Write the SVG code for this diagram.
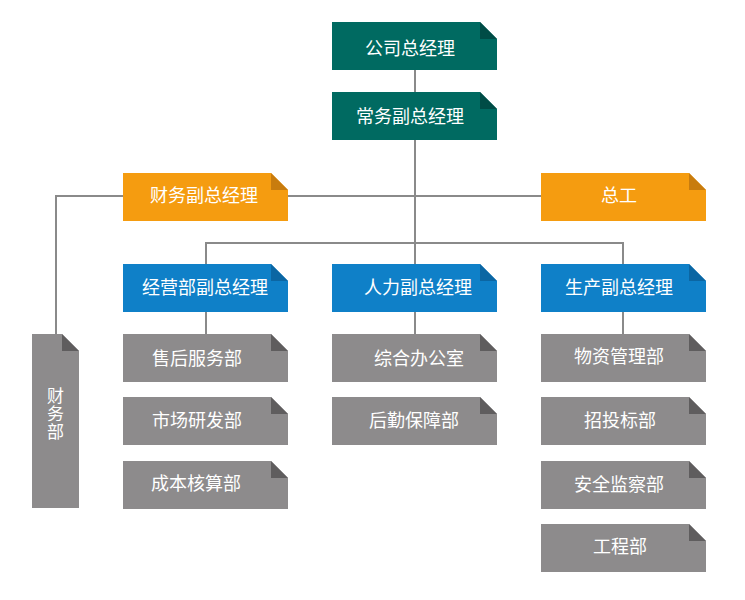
<svg xmlns="http://www.w3.org/2000/svg" xmlns:xlink="http://www.w3.org/1999/xlink" width="745" height="600" viewBox="0 0 745 600">
<defs>
<path id="box" d="M0 0H148L165 17V48H0Z"/>
<path id="fold" d="M148 0V17H165Z"/>
<style>
.teal{fill:#006a61}.teal-d{fill:#004c46}
.orange{fill:#f59c10}.orange-d{fill:#c87c0e}
.blue{fill:#0f80c8}.blue-d{fill:#0b66a3}
.gray{fill:#8d8b8c}.gray-d{fill:#5f5d5e}
text{font-family:"Noto Sans CJK SC","Noto Sans",sans-serif;font-size:18px;fill:#fff;text-anchor:middle}
.conn{fill:none;stroke:#8a8a8a;stroke-width:2}
</style>
</defs>
<rect width="745" height="600" fill="#fff"/>
<g id="connectors" class="conn">
<path d="M415 70V264"/>
<path d="M56 335V196H541"/>
<path d="M206 264V243H623V264"/>
<path d="M206 312V334M415 312V334M623 312V334"/>
</g>
<g id="n-gm" transform="translate(332,22)"><use href="#box" class="teal"/><use href="#fold" class="teal-d"/><text x="78" y="33">公司总经理</text></g>
<g id="n-evp" transform="translate(332,92)"><use href="#box" class="teal"/><use href="#fold" class="teal-d"/><text x="78" y="31">常务副总经理</text></g>
<g id="n-cfo" transform="translate(123,173)"><use href="#box" class="orange"/><use href="#fold" class="orange-d"/><text x="81" y="29">财务副总经理</text></g>
<g id="n-chief" transform="translate(541,173)"><use href="#box" class="orange"/><use href="#fold" class="orange-d"/><text x="78" y="29">总工</text></g>
<g id="n-ops" transform="translate(123,264)"><use href="#box" class="blue"/><use href="#fold" class="blue-d"/><text x="82" y="30">经营部副总经理</text></g>
<g id="n-hr" transform="translate(332,264)"><use href="#box" class="blue"/><use href="#fold" class="blue-d"/><text x="86" y="30">人力副总经理</text></g>
<g id="n-prod" transform="translate(541,264)"><use href="#box" class="blue"/><use href="#fold" class="blue-d"/><text x="78" y="30">生产副总经理</text></g>
<g id="n-fin">
<path d="M32 334H62L79 351V508H32Z" class="gray"/><path d="M62 334V351H79Z" class="gray-d"/>
<text x="55.5" y="414.5" writing-mode="vertical-rl" style="font-size:17px;letter-spacing:1px">财务部</text>
</g>
<g id="n-after" transform="translate(123,334)"><use href="#box" class="gray"/><use href="#fold" class="gray-d"/><text x="74" y="31">售后服务部</text></g>
<g id="n-rd" transform="translate(123,397)"><use href="#box" class="gray"/><use href="#fold" class="gray-d"/><text x="74" y="30">市场研发部</text></g>
<g id="n-cost" transform="translate(123,461)"><use href="#box" class="gray"/><use href="#fold" class="gray-d"/><text x="73" y="29">成本核算部</text></g>
<g id="n-office" transform="translate(332,334)"><use href="#box" class="gray"/><use href="#fold" class="gray-d"/><text x="87" y="31">综合办公室</text></g>
<g id="n-logi" transform="translate(332,397)"><use href="#box" class="gray"/><use href="#fold" class="gray-d"/><text x="82" y="30">后勤保障部</text></g>
<g id="n-mat" transform="translate(541,334)"><use href="#box" class="gray"/><use href="#fold" class="gray-d"/><text x="78" y="29">物资管理部</text></g>
<g id="n-bid" transform="translate(541,397)"><use href="#box" class="gray"/><use href="#fold" class="gray-d"/><text x="79" y="30">招投标部</text></g>
<g id="n-safe" transform="translate(541,461)"><use href="#box" class="gray"/><use href="#fold" class="gray-d"/><text x="78" y="30">安全监察部</text></g>
<g id="n-eng" transform="translate(541,524)"><use href="#box" class="gray"/><use href="#fold" class="gray-d"/><text x="79" y="29">工程部</text></g>
</svg>
